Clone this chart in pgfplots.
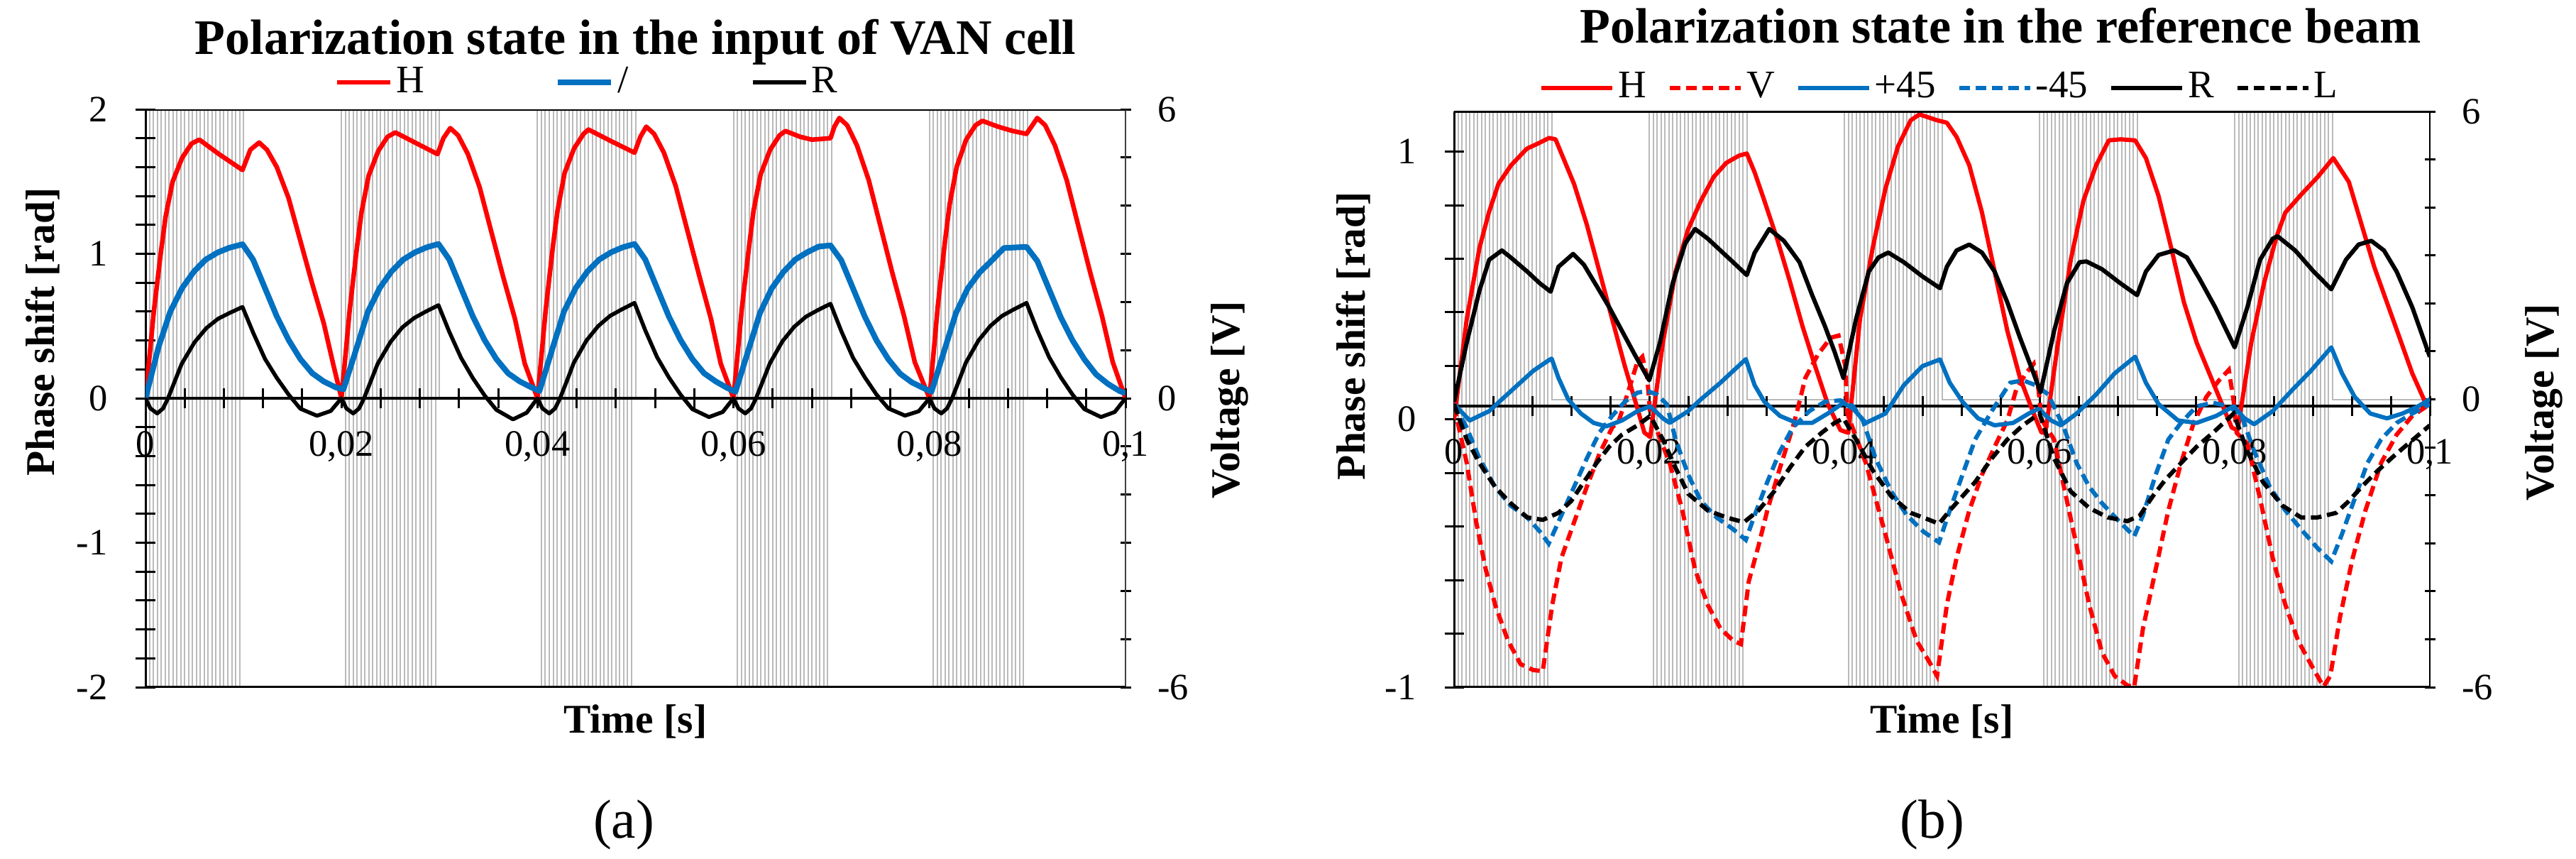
\documentclass[border=0pt]{standalone}
\usepackage{fontspec}
\setmainfont{Liberation Serif}
\usepackage{pgfplots}
\usepackage{pgfplotstable}
\pgfplotsset{compat=1.18}
\definecolor{exred}{RGB}{255,0,0}
\definecolor{exblue}{RGB}{0,112,192}
\definecolor{pwm}{RGB}{186,186,186}

\pgfplotstableread[row sep=\\]{
t v\\
0 6\\ 0.0004 -6\\ 0.0008 6\\ 0.0012 -6\\ 0.0016 6\\ 0.002 -6\\ 0.0024 6\\ 0.0028 -6\\ 0.0032 6\\ 0.0036 -6\\ 0.004 6\\ 0.0044 -6\\ 0.0048 6\\ 0.0052 -6\\ 0.0056 6\\ 0.006 -6\\ 0.0064 6\\ 0.0068 -6\\ 0.0072 6\\ 0.0076 -6\\ 0.008 6\\ 0.0084 -6\\ 0.0088 6\\ 0.0092 -6\\ 0.0096 6\\ 0.01 0\\
0.02 6\\ 0.0204 -6\\ 0.0208 6\\ 0.0212 -6\\ 0.0216 6\\ 0.022 -6\\ 0.0224 6\\ 0.0228 -6\\ 0.0232 6\\ 0.0236 -6\\ 0.024 6\\ 0.0244 -6\\ 0.0248 6\\ 0.0252 -6\\ 0.0256 6\\ 0.026 -6\\ 0.0264 6\\ 0.0268 -6\\ 0.0272 6\\ 0.0276 -6\\ 0.028 6\\ 0.0284 -6\\ 0.0288 6\\ 0.0292 -6\\ 0.0296 6\\ 0.03 0\\
0.04 6\\ 0.0404 -6\\ 0.0408 6\\ 0.0412 -6\\ 0.0416 6\\ 0.042 -6\\ 0.0424 6\\ 0.0428 -6\\ 0.0432 6\\ 0.0436 -6\\ 0.044 6\\ 0.0444 -6\\ 0.0448 6\\ 0.0452 -6\\ 0.0456 6\\ 0.046 -6\\ 0.0464 6\\ 0.0468 -6\\ 0.0472 6\\ 0.0476 -6\\ 0.048 6\\ 0.0484 -6\\ 0.0488 6\\ 0.0492 -6\\ 0.0496 6\\ 0.05 0\\
0.06 6\\ 0.0604 -6\\ 0.0608 6\\ 0.0612 -6\\ 0.0616 6\\ 0.062 -6\\ 0.0624 6\\ 0.0628 -6\\ 0.0632 6\\ 0.0636 -6\\ 0.064 6\\ 0.0644 -6\\ 0.0648 6\\ 0.0652 -6\\ 0.0656 6\\ 0.066 -6\\ 0.0664 6\\ 0.0668 -6\\ 0.0672 6\\ 0.0676 -6\\ 0.068 6\\ 0.0684 -6\\ 0.0688 6\\ 0.0692 -6\\ 0.0696 6\\ 0.07 0\\
0.08 6\\ 0.0804 -6\\ 0.0808 6\\ 0.0812 -6\\ 0.0816 6\\ 0.082 -6\\ 0.0824 6\\ 0.0828 -6\\ 0.0832 6\\ 0.0836 -6\\ 0.084 6\\ 0.0844 -6\\ 0.0848 6\\ 0.0852 -6\\ 0.0856 6\\ 0.086 -6\\ 0.0864 6\\ 0.0868 -6\\ 0.0872 6\\ 0.0876 -6\\ 0.088 6\\ 0.0884 -6\\ 0.0888 6\\ 0.0892 -6\\ 0.0896 6\\ 0.09 0\\
0.1 0\\
}\volt

\pgfplotsset{
  base/.style={scale only axis, xmin=0, xmax=0.1, anchor=south west,
    /pgf/number format/assume math mode=true,
    tick label style={font=\fontsize{10.5}{12}\selectfont},
    label style={font=\fontsize{11.5}{13}\selectfont\bfseries},
    tick style={black, line width=0.6pt}, tick align=center,
    clip=true},
  leg/.style={legend style={draw=none, fill=none, inner sep=0pt,
      font=\fontsize{11}{13}\selectfont, nodes={inner sep=1pt}}},
  voltax/.style={base, leg, ymin=-6, ymax=6, axis x line=none, axis y line*=right,
    y axis line style={black!75, line width=0.5pt},
    ytick={-6,0,6}, yticklabels={-6,0,6},
    minor ytick={-5,-4,-3,-2,-1,1,2,3,4,5},
    major tick length=3pt, minor tick length=3pt,
    yticklabel style={anchor=west, xshift=4pt},
    ylabel={Voltage [V]}},
  xax/.style={base, leg, axis y line=none, axis x line=middle,
    x axis line style={-, black, line width=0.8pt},
    every inner x axis line/.append style={-},
    xtick={0,0.02,0.04,0.06,0.08,0.1},
    xticklabels={0,{0,02},{0,04},{0,06},{0,08},{0,1}},
    minor xtick={0.004,0.008,0.012,0.016,0.024,0.028,0.032,0.036,0.044,0.048,0.052,0.056,0.064,0.068,0.072,0.076,0.084,0.088,0.092,0.096},
    major tick length=5.6pt, minor tick length=5.6pt,
    hide obscured x ticks=false,
    xticklabel style={anchor=north, yshift=-3pt},
    xlabel={Time [s]},
    xlabel style={at={(axis description cs:0.5,0)}, anchor=base, yshift=-12.8pt,
      font=\fontsize{11.5}{13}\selectfont\bfseries}},
  mainax/.style={base, leg, axis x line=none, axis y line*=left,
    y axis line style={black, line width=0.6pt},
    minor y tick num=4, major tick length=5.4pt, minor tick length=5.4pt,
    yticklabel style={anchor=east, xshift=-4.5pt},
    ylabel={Phase shift [rad]},
    title style={font=\fontsize{14}{16}\selectfont\bfseries, anchor=base},
    legend columns=-1},
}

\begin{document}
\begin{tikzpicture}
\useasboundingbox (0,0) rectangle (726pt,241.8pt);

% ---------------- (a) ----------------
\begin{axis}[voltax, at={(41pt,48.2pt)}, width=276.2pt, height=162.8pt,
  ylabel style={at={(axis description cs:1.1065,0.497)}, anchor=center},
  legend image code/.code={\draw[#1] (0pt,0pt) -- (15pt,0pt);},
  legend style={at={(axis description cs:0.617,1)}, anchor=west, yshift=7.6pt}]
\addplot[const plot, color=pwm, line width=0.4pt, forget plot] table {\volt};
\addlegendimage{black, line width=1.1pt}
\addlegendentry{R}
\end{axis}

\begin{axis}[xax, at={(41pt,48.2pt)}, width=276.2pt, height=162.8pt, ymin=-2, ymax=2,
  legend image code/.code={\draw[#1] (0pt,0pt) -- (15pt,0pt);},
  legend style={at={(axis description cs:0.4171,1)}, anchor=west, yshift=7.6pt}]
\addplot[draw=none, forget plot] coordinates {(0,0)};
\addlegendimage{exblue, line width=1.6pt}
\addlegendentry{/}
\end{axis}

\begin{axis}[mainax, at={(41pt,48.2pt)}, width=276.2pt, height=162.8pt,
  ymin=-2, ymax=2, ytick={-2,-1,0,1,2}, yticklabels={-2,-1,0,1,2},
  ylabel style={at={(axis description cs:-0.105,0.615)}, anchor=center},
  title={Polarization state in the input of VAN cell},
  title style={at={(axis description cs:0.5,1)}, yshift=9.5pt},
  legend image code/.code={\draw[#1] (0pt,0pt) -- (15pt,0pt);},
  legend style={at={(axis description cs:0.1926,1)}, anchor=west, yshift=7.6pt}]
\addplot[exred, line width=1.3pt, line join=round] coordinates {
(0,0) (0.00085,0.60) (0.00157,1.01) (0.00205,1.255) (0.00277,1.50) (0.00374,1.664) (0.0047,1.763) (0.0055,1.79) (0.0075,1.69) (0.0099,1.58) (0.0107,1.72) (0.0116,1.77) (0.0124,1.72) (0.0134,1.60) (0.0146,1.386) (0.0158,1.091) (0.0170,0.796) (0.0182,0.517) (0.0192,0.223) (0.0200,0)
(0.02085,0.62) (0.02157,1.04) (0.02205,1.29) (0.02277,1.54) (0.02374,1.71) (0.0247,1.81) (0.0255,1.84) (0.0275,1.77) (0.0298,1.69) (0.0304,1.80) (0.0311,1.87) (0.0319,1.82) (0.0329,1.69) (0.0341,1.46) (0.0353,1.15) (0.0365,0.84) (0.0377,0.55) (0.0387,0.24) (0.04,0)
(0.04085,0.62) (0.04157,1.05) (0.04205,1.30) (0.04277,1.56) (0.04374,1.73) (0.0447,1.83) (0.0452,1.86) (0.0475,1.78) (0.0499,1.70) (0.0505,1.81) (0.0511,1.88) (0.0519,1.83) (0.0529,1.70) (0.0541,1.47) (0.0553,1.16) (0.0565,0.85) (0.0577,0.55) (0.0587,0.24) (0.06,0)
(0.06085,0.62) (0.06157,1.04) (0.06205,1.30) (0.06277,1.55) (0.06374,1.72) (0.0647,1.82) (0.0653,1.85) (0.0668,1.81) (0.068,1.79) (0.0699,1.80) (0.0703,1.88) (0.0708,1.94) (0.0716,1.89) (0.0726,1.75) (0.0738,1.51) (0.075,1.19) (0.0762,0.87) (0.0774,0.57) (0.0785,0.25) (0.08,0)
(0.08085,0.64) (0.08157,1.08) (0.08205,1.34) (0.08277,1.60) (0.08374,1.79) (0.0847,1.89) (0.0854,1.92) (0.087,1.88) (0.0885,1.85) (0.0899,1.83) (0.0904,1.88) (0.091,1.94) (0.0918,1.89) (0.0928,1.75) (0.094,1.51) (0.0952,1.19) (0.0964,0.87) (0.0976,0.57) (0.0987,0.25) (0.1,0)};
\addlegendentry{H}
\addplot[exblue, line width=1.6pt, line join=round, forget plot] coordinates {
(0,0) (0.00133,0.354) (0.00253,0.60) (0.00374,0.763) (0.00495,0.878) (0.00615,0.96) (0.00736,1.009) (0.00857,1.042) (0.0099,1.066) (0.01098,0.96) (0.01219,0.763) (0.0134,0.567) (0.01461,0.403) (0.0158,0.272) (0.01702,0.173) (0.0182,0.116) (0.01943,0.075) (0.0202,0.062)
(0.0216,0.36) (0.0227,0.60) (0.0239,0.763) (0.0251,0.878) (0.0263,0.96) (0.0275,1.01) (0.0287,1.045) (0.0299,1.068) (0.031,0.96) (0.0322,0.763) (0.0334,0.567) (0.0346,0.403) (0.0358,0.272) (0.037,0.173) (0.0382,0.116) (0.0394,0.075) (0.0402,0.05)
(0.0416,0.36) (0.0427,0.60) (0.0439,0.763) (0.0451,0.878) (0.0463,0.96) (0.0475,1.01) (0.0487,1.045) (0.0499,1.068) (0.051,0.96) (0.0522,0.763) (0.0534,0.567) (0.0546,0.403) (0.0558,0.272) (0.057,0.173) (0.0582,0.116) (0.0594,0.07) (0.0602,0.045)
(0.0616,0.35) (0.0627,0.59) (0.0639,0.76) (0.0651,0.875) (0.0663,0.96) (0.0675,1.01) (0.0687,1.05) (0.0699,1.058) (0.071,0.955) (0.0722,0.76) (0.0734,0.565) (0.0746,0.40) (0.0758,0.27) (0.077,0.17) (0.0782,0.11) (0.0794,0.07) (0.0802,0.045)
(0.0816,0.35) (0.0827,0.59) (0.0839,0.76) (0.0851,0.87) (0.0863,0.95) (0.0876,1.04) (0.0899,1.048) (0.091,0.95) (0.0922,0.755) (0.0934,0.56) (0.0946,0.40) (0.0958,0.27) (0.097,0.165) (0.0982,0.10) (0.0994,0.05) (0.1,0.035)};
\addplot[black, line width=1.1pt, line join=round, forget plot] coordinates {
(0,0) (0.0005,-0.07) (0.0012,-0.105) (0.0018,-0.07) (0.0023,0) (0.003,0.12) (0.0037,0.239) (0.005,0.387) (0.0062,0.485) (0.0074,0.55) (0.0086,0.591) (0.0099,0.632) (0.011,0.452) (0.0122,0.272) (0.0134,0.141) (0.0146,0.026) (0.0158,-0.072) (0.0175,-0.121) (0.0189,-0.088) (0.02,0)
(0.0205,-0.07) (0.0212,-0.105) (0.0218,-0.07) (0.0223,0) (0.023,0.12) (0.0237,0.24) (0.025,0.39) (0.0262,0.49) (0.0274,0.555) (0.0286,0.60) (0.0299,0.644) (0.031,0.46) (0.0322,0.28) (0.0334,0.14) (0.0346,0.02) (0.0358,-0.08) (0.0375,-0.146) (0.0389,-0.10) (0.04,0)
(0.0405,-0.07) (0.0412,-0.105) (0.0418,-0.07) (0.0423,0) (0.043,0.12) (0.0437,0.245) (0.045,0.40) (0.0462,0.50) (0.0474,0.57) (0.0486,0.615) (0.0499,0.66) (0.051,0.47) (0.0522,0.285) (0.0534,0.145) (0.0546,0.025) (0.0558,-0.075) (0.0575,-0.13) (0.0589,-0.095) (0.06,0)
(0.0605,-0.07) (0.0612,-0.105) (0.0618,-0.07) (0.0623,0) (0.063,0.12) (0.0637,0.24) (0.065,0.395) (0.0662,0.495) (0.0674,0.565) (0.0686,0.61) (0.0699,0.654) (0.071,0.465) (0.0722,0.28) (0.0734,0.145) (0.0746,0.025) (0.0758,-0.07) (0.0775,-0.12) (0.0789,-0.09) (0.08,0)
(0.0805,-0.07) (0.0812,-0.105) (0.0818,-0.07) (0.0823,0) (0.083,0.12) (0.0837,0.245) (0.085,0.40) (0.0862,0.50) (0.0874,0.57) (0.0886,0.615) (0.0899,0.66) (0.091,0.47) (0.0922,0.285) (0.0934,0.145) (0.0946,0.025) (0.0958,-0.075) (0.0975,-0.13) (0.0989,-0.095) (0.1,0)};
\draw[black, line width=0.7pt] (rel axis cs:0,1) -- (rel axis cs:1,1);
\draw[black, line width=0.9pt] (rel axis cs:0,0) -- (rel axis cs:1,0);
\end{axis}

% ---------------- (b) ----------------
\begin{axis}[voltax, at={(409.8pt,48.2pt)}, width=275pt, height=162.2pt,
  y axis line style={black, line width=0.5pt},
  ylabel style={at={(axis description cs:1.117,0.495)}, anchor=center}]
\addplot[const plot, color=pwm, line width=0.4pt, forget plot] table {\volt};
\end{axis}

\begin{axis}[xax, at={(409.8pt,48.2pt)}, width=275pt, height=162.2pt, ymin=-1.05, ymax=1.10]
\addplot[draw=none, forget plot] coordinates {(0,0)};
\end{axis}

\begin{axis}[mainax, at={(409.8pt,48.2pt)}, width=275pt, height=162.2pt,
  ymin=-1, ymax=1.15, ytick={-1,0,1}, yticklabels={-1,0,1},
  ylabel style={at={(axis description cs:-0.103,0.61)}, anchor=center},
  title={Polarization state in the reference beam},
  title style={at={(axis description cs:0.56,1)}, yshift=13.2pt},
  legend image code/.code={\draw[#1] (0pt,0pt) -- (20pt,0pt);},
  legend style={at={(axis description cs:0.4985,1)}, anchor=south, yshift=1.1pt,
    /tikz/every even column/.append style={column sep=5pt}},
  legend entries={H,V,+45,-45,R,L}]
\addplot[exred, line width=1.2pt, line join=round] coordinates {
(0,0) (0.0013,0.375) (0.0026,0.64) (0.00357,0.773) (0.00454,0.879) (0.00584,0.949) (0.00746,1.011) (0.00876,1.033) (0.00974,1.051) (0.0104,1.046) (0.011,0.993) (0.0123,0.879) (0.0136,0.728) (0.0149,0.552) (0.0162,0.375) (0.0175,0.199) (0.0188,0.04) (0.0195,-0.049) (0.0201,-0.066)
(0.0214,0.287) (0.0227,0.552) (0.024,0.711) (0.0253,0.817) (0.0266,0.905) (0.0279,0.958) (0.0292,0.985) (0.03,0.993) (0.0308,0.923) (0.0318,0.817) (0.0331,0.675) (0.0344,0.517) (0.0357,0.349) (0.037,0.199) (0.0383,0.057) (0.0396,-0.04) (0.0404,-0.05)
(0.0416,0.375) (0.0429,0.64) (0.0442,0.861) (0.0455,1.02) (0.0468,1.117) (0.0477,1.139) (0.0495,1.117) (0.0505,1.108) (0.0515,1.055) (0.0528,0.949) (0.0541,0.773) (0.0554,0.552) (0.0567,0.331) (0.058,0.155) (0.0593,0.031) (0.0602,-0.049) (0.0606,-0.05)
(0.0619,0.287) (0.0632,0.596) (0.0645,0.817) (0.0658,0.949) (0.0671,1.042) (0.0683,1.046) (0.0698,1.042) (0.0709,0.976) (0.0722,0.834) (0.0735,0.64) (0.0748,0.437) (0.0761,0.287) (0.0774,0.172) (0.0787,0.057) (0.0797,-0.031) (0.0803,-0.04)
(0.0817,0.287) (0.083,0.508) (0.0843,0.684) (0.0852,0.773) (0.0869,0.843) (0.0885,0.905) (0.0901,0.976) (0.0917,0.887) (0.093,0.728) (0.0943,0.57) (0.0956,0.437) (0.0969,0.305) (0.0982,0.172) (0.0995,0.066) (0.1,0.049)};
\addplot[exred, line width=1.2pt, dash pattern=on 3pt off 1.6pt] coordinates {
(0,0.05) (0.0013,-0.163) (0.00227,-0.384) (0.00325,-0.561) (0.00422,-0.693) (0.00552,-0.826) (0.00682,-0.914) (0.00812,-0.936) (0.00909,-0.94) (0.01006,-0.693) (0.011,-0.517) (0.0123,-0.384) (0.0136,-0.252) (0.0149,-0.128) (0.0162,-0.031) (0.0169,-0.004) (0.0179,0.11) (0.0188,0.216) (0.0193,0.234) (0.0198,0.155) (0.0201,0.022)
(0.0221,-0.163) (0.0234,-0.34) (0.0247,-0.561) (0.026,-0.693) (0.0273,-0.781) (0.0286,-0.826) (0.0294,-0.839) (0.0302,-0.605) (0.0312,-0.472) (0.0321,-0.34) (0.0334,-0.181) (0.0347,-0.031) (0.0351,0.022) (0.036,0.155) (0.0373,0.243) (0.0386,0.305) (0.0394,0.313) (0.0401,0.199) (0.0403,0.022)
(0.0422,-0.163) (0.0442,-0.428) (0.0458,-0.649) (0.0474,-0.826) (0.0487,-0.905) (0.0495,-0.958) (0.0505,-0.693) (0.0515,-0.517) (0.0528,-0.34) (0.0541,-0.207) (0.0554,-0.102) (0.0567,-0.004) (0.0576,0.11) (0.0586,0.172) (0.0594,0.207) (0.0599,0.11) (0.0602,0)
(0.0615,-0.075) (0.0625,-0.252) (0.0638,-0.472) (0.0651,-0.693) (0.0664,-0.87) (0.0677,-0.958) (0.069,-0.993) (0.0697,-1.0) (0.0706,-0.781) (0.0719,-0.561) (0.0732,-0.34) (0.0745,-0.163) (0.0758,-0.013) (0.0771,0.084) (0.0784,0.146) (0.0794,0.185) (0.0799,0.066) (0.0802,-0.05)
(0.0813,-0.09) (0.0826,-0.296) (0.0839,-0.517) (0.0852,-0.693) (0.0865,-0.826) (0.0878,-0.914) (0.0891,-0.998) (0.0898,-0.958) (0.0908,-0.737) (0.0921,-0.517) (0.0934,-0.34) (0.095,-0.163) (0.0966,-0.057) (0.0982,0.013) (0.1,0.057)};
\addplot[exblue, line width=1.2pt, line join=round] coordinates {
(0,0.057) (0.0016,-0.004) (0.0036,0.031) (0.0049,0.075) (0.0065,0.128) (0.0081,0.181) (0.0097,0.221) (0.01,0.227) (0.0107,0.155) (0.0117,0.075) (0.013,0.022) (0.0143,-0.013) (0.0156,-0.026) (0.0172,-0.004) (0.0188,0.031) (0.0201,0.049)
(0.0214,0.004) (0.0221,-0.013) (0.024,0.031) (0.0253,0.075) (0.0273,0.137) (0.0286,0.181) (0.0299,0.225) (0.0308,0.128) (0.0318,0.066) (0.0334,0.013) (0.0351,-0.013) (0.0367,-0.013) (0.0383,0.022) (0.0399,0.062)
(0.0409,0.04) (0.0422,-0.013) (0.0442,0.022) (0.0461,0.128) (0.048,0.199) (0.0498,0.224) (0.0508,0.137) (0.0521,0.066) (0.0537,0.004) (0.0554,-0.022) (0.0573,-0.013) (0.0589,0.022) (0.0599,0.04)
(0.0612,-0.004) (0.0622,-0.022) (0.0638,0.022) (0.0658,0.093) (0.0677,0.172) (0.0698,0.234) (0.0709,0.137) (0.0722,0.057) (0.0742,-0.004) (0.0761,-0.013) (0.0781,0.013) (0.0799,0.049)
(0.081,0.004) (0.082,-0.018) (0.0839,0.031) (0.0859,0.11) (0.0878,0.181) (0.0899,0.269) (0.091,0.172) (0.0923,0.084) (0.0939,0.022) (0.0956,0.004) (0.0972,0.022) (0.0988,0.049) (0.1,0.075)};
\addplot[exblue, line width=1.2pt, dash pattern=on 3pt off 1.6pt] coordinates {
(0,0.057) (0.0013,-0.031) (0.0026,-0.146) (0.0042,-0.252) (0.0058,-0.322) (0.0075,-0.366) (0.0088,-0.419) (0.0097,-0.464) (0.011,-0.358) (0.0123,-0.252) (0.0136,-0.146) (0.0149,-0.049) (0.0162,0.013) (0.0175,0.066) (0.0188,0.1) (0.0198,0.106) (0.0208,0.093) (0.0218,0.057)
(0.0227,-0.075) (0.024,-0.207) (0.0253,-0.305) (0.0269,-0.366) (0.0286,-0.41) (0.0299,-0.45) (0.0308,-0.358) (0.0321,-0.234) (0.0334,-0.119) (0.0347,-0.031) (0.0364,0.031) (0.038,0.066) (0.0396,0.071) (0.0409,0.049) (0.0419,-0.004)
(0.0432,-0.146) (0.0448,-0.269) (0.0464,-0.358) (0.0481,-0.419) (0.0497,-0.459) (0.0508,-0.34) (0.0521,-0.207) (0.0534,-0.075) (0.0551,0.031) (0.057,0.137) (0.0583,0.146) (0.0596,0.128) (0.0609,0.093)
(0.0625,-0.031) (0.0638,-0.163) (0.0651,-0.252) (0.0664,-0.313) (0.068,-0.375) (0.0697,-0.437) (0.0706,-0.358) (0.0719,-0.207) (0.0732,-0.075) (0.0745,-0.013) (0.0761,0.049) (0.0778,0.062) (0.0794,0.049) (0.0807,0.013)
(0.082,-0.119) (0.0836,-0.252) (0.0852,-0.34) (0.0868,-0.41) (0.0885,-0.481) (0.0899,-0.53) (0.091,-0.428) (0.0923,-0.296) (0.0936,-0.163) (0.095,-0.075) (0.0966,-0.013) (0.0982,0.022) (0.1,0.057)};
\addplot[black, line width=1.2pt, line join=round] coordinates {
(0,0.066) (0.0013,0.287) (0.0026,0.481) (0.0036,0.596) (0.0049,0.631) (0.0058,0.605) (0.0075,0.552) (0.0088,0.508) (0.0099,0.477) (0.0107,0.57) (0.0122,0.618) (0.0133,0.578) (0.0146,0.499) (0.0159,0.419) (0.0172,0.331) (0.0185,0.243) (0.02,0.146)
(0.0211,0.287) (0.0224,0.508) (0.0237,0.658) (0.0247,0.711) (0.026,0.675) (0.0273,0.631) (0.0286,0.587) (0.03,0.539) (0.0308,0.622) (0.0323,0.711) (0.0338,0.667) (0.0354,0.587) (0.0367,0.464) (0.038,0.349) (0.039,0.252) (0.0399,0.155)
(0.0412,0.375) (0.0425,0.552) (0.0435,0.605) (0.0445,0.623) (0.0461,0.587) (0.048,0.534) (0.0498,0.49) (0.0505,0.57) (0.0515,0.631) (0.0528,0.653) (0.0541,0.623) (0.0554,0.552) (0.0567,0.437) (0.058,0.305) (0.0593,0.181) (0.0601,0.102)
(0.0615,0.331) (0.0628,0.508) (0.0641,0.587) (0.0648,0.59) (0.0664,0.561) (0.0683,0.508) (0.07,0.464) (0.0709,0.552) (0.0722,0.614) (0.0738,0.631) (0.0751,0.605) (0.0764,0.525) (0.078,0.419) (0.08,0.269)
(0.0813,0.419) (0.0826,0.596) (0.0839,0.675) (0.0844,0.684) (0.0862,0.631) (0.0881,0.552) (0.0899,0.486) (0.0914,0.596) (0.0927,0.653) (0.094,0.667) (0.0953,0.631) (0.0966,0.552) (0.0982,0.419) (0.1,0.234)};
\addplot[black, line width=1.2pt, dash pattern=on 3pt off 1.6pt] coordinates {
(0,0.057) (0.0013,-0.075) (0.0026,-0.163) (0.0042,-0.252) (0.0058,-0.313) (0.0075,-0.366) (0.0091,-0.375) (0.0107,-0.349) (0.012,-0.305) (0.0133,-0.234) (0.0146,-0.163) (0.0159,-0.102) (0.0172,-0.057) (0.0188,-0.022) (0.0201,0.013)
(0.0214,-0.075) (0.0227,-0.181) (0.024,-0.278) (0.026,-0.34) (0.0279,-0.366) (0.0297,-0.384) (0.0312,-0.34) (0.0328,-0.269) (0.0344,-0.181) (0.036,-0.102) (0.0377,-0.049) (0.039,-0.013) (0.0399,0.004)
(0.0412,-0.075) (0.0429,-0.19) (0.0448,-0.287) (0.0468,-0.349) (0.0487,-0.375) (0.0497,-0.39) (0.0508,-0.34) (0.0521,-0.287) (0.0534,-0.234) (0.0551,-0.146) (0.0567,-0.075) (0.0583,-0.022) (0.06,0.022)
(0.0615,-0.146) (0.0632,-0.269) (0.0651,-0.331) (0.067,-0.366) (0.069,-0.38) (0.0703,-0.358) (0.0716,-0.287) (0.0729,-0.225) (0.0745,-0.163) (0.0761,-0.102) (0.0778,-0.049) (0.0799,0.022)
(0.0813,-0.119) (0.0829,-0.234) (0.0849,-0.322) (0.0868,-0.366) (0.0885,-0.366) (0.0904,-0.349) (0.0917,-0.305) (0.093,-0.252) (0.0947,-0.19) (0.0963,-0.137) (0.098,-0.084) (0.1,-0.022)};
\draw[black, line width=0.7pt] (rel axis cs:0,1) -- (rel axis cs:1,1);
\draw[black, line width=0.9pt] (rel axis cs:0,0) -- (rel axis cs:1,0);
\end{axis}

\node[font=\fontsize{15.5}{18}\selectfont, anchor=base] at (175.8pt,5.8pt) {(a)};
\node[font=\fontsize{15.5}{18}\selectfont, anchor=base] at (544.6pt,5.8pt) {(b)};
\end{tikzpicture}
\end{document}
